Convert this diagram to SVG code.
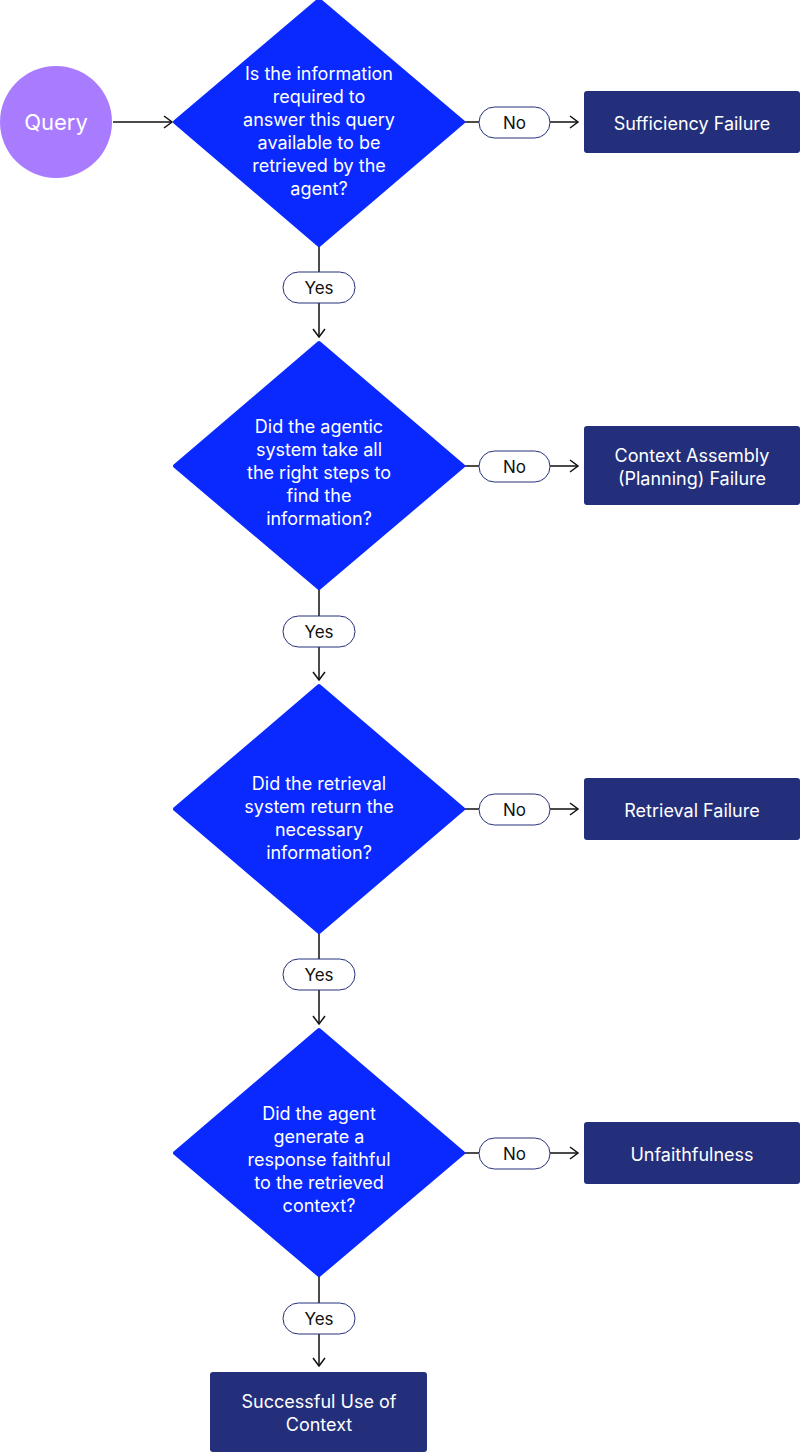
<svg xmlns="http://www.w3.org/2000/svg" width="800" height="1452" viewBox="0 0 800 1452">
<style>
.d{fill:#0a29ff}
.b{fill:#242f7b}
.p{fill:#fff;stroke:#242f7b;stroke-width:1}
.t{font-family:Inter,"Liberation Sans",sans-serif;font-size:18px;fill:#fff;text-anchor:middle}
.l{font-family:Inter,"Liberation Sans",sans-serif;font-size:17px;fill:#111;text-anchor:middle}
.c{stroke:#111;stroke-width:1.5;fill:none}
</style>
<defs><marker id="a" markerWidth="12" markerHeight="14" refX="10" refY="7" orient="auto" markerUnits="userSpaceOnUse"><path d="M2,1 L10,7 L2,13" fill="none" stroke="#111" stroke-width="1.5"/></marker></defs>
<g id="connectors">
<path class="c" d="M113,122 H172" marker-end="url(#a)"/>
<path class="c" d="M463,122 H479 M550,122 H578" marker-end="url(#a)"/>
<path class="c" d="M463,466 H479 M550,466 H578" marker-end="url(#a)"/>
<path class="c" d="M463,809 H479 M550,809 H578" marker-end="url(#a)"/>
<path class="c" d="M463,1153 H479 M550,1153 H578" marker-end="url(#a)"/>
<path class="c" d="M319,245 V272 M319,303 V337" marker-end="url(#a)"/>
<path class="c" d="M319,588 V616 M319,647 V680" marker-end="url(#a)"/>
<path class="c" d="M319,932 V959 M319,990 V1024" marker-end="url(#a)"/>
<path class="c" d="M319,1275 V1303 M319,1334 V1366" marker-end="url(#a)"/>
<g><rect class="p" x="479" y="107" width="71" height="31" rx="15.5"/><text class="l" x="514.500" y="128.500">No</text></g>
<g><rect class="p" x="479" y="451" width="71" height="31" rx="15.5"/><text class="l" x="514.500" y="472.500">No</text></g>
<g><rect class="p" x="479" y="794" width="71" height="31" rx="15.5"/><text class="l" x="514.500" y="815.500">No</text></g>
<g><rect class="p" x="479" y="1138" width="71" height="31" rx="15.5"/><text class="l" x="514.500" y="1159.500">No</text></g>
<g><rect class="p" x="283" y="272" width="72" height="31" rx="15.5"/><text class="l" x="319" y="293.500">Yes</text></g>
<g><rect class="p" x="283" y="616" width="72" height="31" rx="15.5"/><text class="l" x="319" y="637.500">Yes</text></g>
<g><rect class="p" x="283" y="959" width="72" height="31" rx="15.5"/><text class="l" x="319" y="980.500">Yes</text></g>
<g><rect class="p" x="283" y="1303" width="72" height="31" rx="15.5"/><text class="l" x="319" y="1324.500">Yes</text></g>
</g>
<g id="query"><circle cx="56" cy="122" r="56" fill="#a97bff"/><text class="t" x="56" y="130" style="font-size:22px">Query</text></g>
<g id="q1"><path class="d" d="M319,0 L463,122 L319,245 L175,122 Z" stroke="#0a29ff" stroke-linejoin="round" stroke-width="4"/>
<text class="t"><tspan x="319" y="80">Is the information</tspan><tspan x="319" y="103">required to</tspan><tspan x="319" y="126">answer this query</tspan><tspan x="319" y="149">available to be</tspan><tspan x="319" y="172">retrieved by the</tspan><tspan x="319" y="195">agent?</tspan></text></g>
<g id="q2"><path class="d" d="M319,343 L463,466 L319,588 L175,466 Z" stroke="#0a29ff" stroke-linejoin="round" stroke-width="4"/>
<text class="t"><tspan x="319" y="433">Did the agentic</tspan><tspan x="319" y="456">system take all</tspan><tspan x="319" y="479">the right steps to</tspan><tspan x="319" y="502">find the</tspan><tspan x="319" y="525">information?</tspan></text></g>
<g id="q3"><path class="d" d="M319,686 L463,809 L319,932 L175,809 Z" stroke="#0a29ff" stroke-linejoin="round" stroke-width="4"/>
<text class="t"><tspan x="319" y="790">Did the retrieval</tspan><tspan x="319" y="813">system return the</tspan><tspan x="319" y="836">necessary</tspan><tspan x="319" y="859">information?</tspan></text></g>
<g id="q4"><path class="d" d="M319,1030 L463,1153 L319,1275 L175,1153 Z" stroke="#0a29ff" stroke-linejoin="round" stroke-width="4"/>
<text class="t"><tspan x="319" y="1120">Did the agent</tspan><tspan x="319" y="1143">generate a</tspan><tspan x="319" y="1166">response faithful</tspan><tspan x="319" y="1189">to the retrieved</tspan><tspan x="319" y="1212">context?</tspan></text></g>
<g id="f1"><rect class="b" x="584" y="91" width="216" height="62" rx="3"/><text class="t" x="692" y="130">Sufficiency Failure</text></g>
<g id="f2"><rect class="b" x="584" y="426" width="216" height="79" rx="3"/><text class="t"><tspan x="692" y="462">Context Assembly</tspan><tspan x="692" y="485">(Planning) Failure</tspan></text></g>
<g id="f3"><rect class="b" x="584" y="778" width="216" height="62" rx="3"/><text class="t" x="692" y="817">Retrieval Failure</text></g>
<g id="f4"><rect class="b" x="584" y="1122" width="216" height="62" rx="3"/><text class="t" x="692" y="1161">Unfaithfulness</text></g>
<g id="success"><rect class="b" x="210" y="1372" width="217" height="80" rx="3"/><text class="t"><tspan x="319" y="1408">Successful Use of</tspan><tspan x="319" y="1431">Context</tspan></text></g>
</svg>
